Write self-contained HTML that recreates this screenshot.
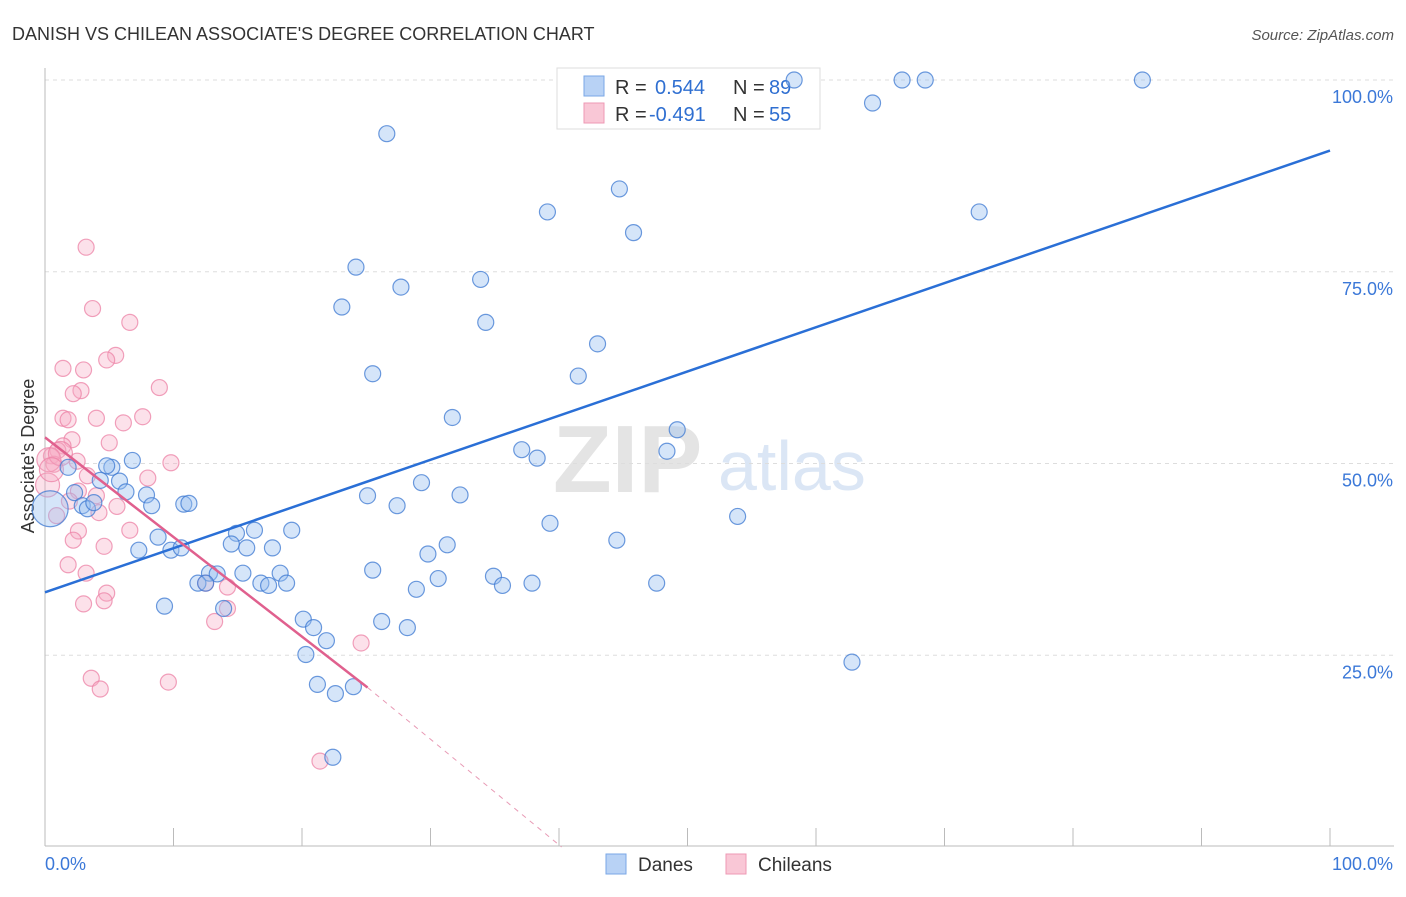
<!DOCTYPE html>
<html><head><meta charset="utf-8"><style>
body{margin:0;background:#fff;font-family:"Liberation Sans",sans-serif;}
svg text{font-family:"Liberation Sans",sans-serif;}
</style></head><body>
<svg id="chart" width="1406" height="892">
<text x="12" y="40" font-size="18" fill="#333">DANISH VS CHILEAN ASSOCIATE'S DEGREE CORRELATION CHART</text>
<text x="1394" y="40" font-size="15" fill="#555" font-style="italic" text-anchor="end">Source: ZipAtlas.com</text>
<text x="34" y="456" font-size="18" fill="#333" transform="rotate(-90 34 456)" text-anchor="middle">Associate's Degree</text>
<text x="553" y="492" font-size="96" fill="#e4e4e4" font-family="Liberation Serif" font-weight="bold">ZIP</text>
<text x="718" y="490" font-size="70" fill="#dbe6f5">atlas</text>
<g id="grid"></g>
<g>
<rect x="557" y="68" width="263" height="61" fill="#fff" stroke="#ddd"/>
<rect x="584" y="76" width="20" height="20" fill="#b8d2f5" stroke="#7aa7e6"/>
<rect x="584" y="103" width="20" height="20" fill="#f9c7d6" stroke="#ee99b4"/>
<text x="615" y="94" font-size="20" fill="#333">R =<tspan fill="#2f6fd1" x="655">0.544</tspan><tspan fill="#333" x="733">N =</tspan><tspan fill="#2f6fd1" x="769">89</tspan></text>
<text x="615" y="121" font-size="20" fill="#333">R =<tspan fill="#2f6fd1" x="649">-0.491</tspan><tspan fill="#333" x="733">N =</tspan><tspan fill="#2f6fd1" x="769">55</tspan></text>
</g>
<g id="pts"></g><g id="lines"></g>
<g>
<rect x="606" y="854" width="20" height="20" fill="#b8d2f5" stroke="#7aa7e6"/>
<text x="638" y="871" font-size="19" fill="#333">Danes</text>
<rect x="726" y="854" width="20" height="20" fill="#f9c7d6" stroke="#ee99b4"/>
<text x="758" y="871" font-size="19" fill="#333">Chileans</text>
</g>
</svg>
<script>
const yTicks=[25,50,75,100];
const yTickLabels=["25.0%","50.0%","75.0%","100.0%"];
const xTickLabels=["0.0%","100.0%"];
const danesX=[58.3,66.7,68.5,85.4,64.4,26.6,44.7,39.1,45.8,72.7,24.2,33.9,27.7,23.1,34.3,43,25.5,41.5,31.7,49.2,37.1,38.3,48.4,1.8,5.2,4.8,6.8,5.8,4.3,2.3,6.3,7.9,8.3,2.9,3.3,3.8,10.8,11.2,25.1,29.3,32.3,27.4,53.9,39.3,44.5,14.9,16.3,19.2,14.5,8.8,7.3,9.8,10.6,15.7,17.7,31.3,29.8,12.8,13.4,15.4,18.3,25.5,11.9,12.5,16.8,17.4,18.8,30.6,34.9,35.6,37.9,47.6,28.9,9.3,13.9,20.1,20.9,26.2,28.2,21.9,20.3,62.8,21.2,24,22.6,22.4,0.4];
const danesY=[100,100,100,100,97,93,85.8,82.8,80.1,82.8,75.6,74,73,70.4,68.4,65.6,61.7,61.4,56,54.4,51.8,50.7,51.6,49.5,49.5,49.7,50.4,47.7,47.8,46.2,46.3,45.9,44.5,44.5,44.1,44.9,44.7,44.8,45.8,47.5,45.9,44.5,43.1,42.2,40,40.9,41.3,41.3,39.5,40.4,38.7,38.7,39,39,39,39.4,38.2,35.7,35.6,35.7,35.7,36.1,34.4,34.4,34.4,34.1,34.4,35,35.3,34.1,34.4,34.4,33.6,31.4,31.1,29.7,28.6,29.4,28.6,26.9,25.1,24.1,21.2,20.9,20,11.7,44.1];
const chileX=[3.2,3.7,6.6,5.5,4.8,1.4,3,8.9,2.8,2.2,1.4,4,1.8,7.6,6.1,5,2.1,1.4,1,0.5,0.7,2.5,9.8,8,3.3,2.6,4,1.9,5.6,4.2,0.9,2.6,6.6,2.2,4.6,1.8,3.2,4.8,4.6,3,12.5,14.2,14.2,13.2,24.6,3.6,4.3,9.6,21.4,0.2,0.3,1.2,0.5];
const chileY=[78.2,70.2,68.4,64.1,63.5,62.4,62.2,59.9,59.5,59.1,55.9,55.9,55.7,56.1,55.3,52.7,53.1,52.3,51.7,51,49.9,50.3,50.1,48.1,48.4,46.4,45.8,45.1,44.4,43.6,43.2,41.2,41.3,40,39.2,36.8,35.7,33.1,32.1,31.7,34.4,33.9,31.1,29.4,26.6,22,20.6,21.5,11.2,47.2,50.5,51.3,49.2];
const NS="http://www.w3.org/2000/svg";
const x0=45,x1=1330,y0=847,y100=80;
const sx=v=>x0+(x1-x0)*v/100, sy=v=>y0-(y0-y100)*v/100;
function mk(t,a,p){const e=document.createElementNS(NS,t);for(const k in a)e.setAttribute(k,a[k]);document.getElementById(p).appendChild(e);return e;}
yTicks.forEach((t,i)=>{
 const g=mk('line',{x1:45,x2:1394,y1:sy(t),y2:sy(t),stroke:'#ddd','stroke-dasharray':'4,4'},'grid');
 
 
 const l=mk('text',{x:1393,y:sy(t)+23,'font-size':18,fill:'#3b78d8','text-anchor':'end'},'grid');l.textContent=yTickLabels[i];
 
 
});
const ax=mk('line',{x1:45,x2:45,y1:68,y2:846,stroke:'#bbb'},'grid');


const bx=mk('line',{x1:45,x2:1394,y1:846,y2:846,stroke:'#bbb'},'grid');


for(let i=0;i<=10;i++){const t=mk('line',{x1:sx(i*10),x2:sx(i*10),y1:828,y2:846,stroke:'#bbb'},'grid');
 
 }
[[0,45,'start'],[1,1393,'end']].forEach(([i,x,a])=>{const l=mk('text',{x:x,y:870,'font-size':18,fill:'#3b78d8','text-anchor':a},'grid');l.textContent=xTickLabels[i];
 
 });
chileX.forEach((v,i)=>{const c=mk('circle',{cx:sx(v),cy:sy(chileY[i]),r:i>=49?12:8,fill:'rgba(246,170,194,0.35)',stroke:'rgba(236,130,165,0.75)','stroke-width':1.2},'pts');
 
 });
danesX.forEach((v,i)=>{const c=mk('circle',{cx:sx(v),cy:sy(danesY[i]),r:i==danesX.length-1?18:8,fill:'rgba(150,190,240,0.4)',stroke:'rgba(60,120,210,0.75)','stroke-width':1.2},'pts');
 
 });
const bl=mk('line',{x1:sx(0),y1:sy(33.2),x2:sx(100),y2:sy(90.8),stroke:'#2a6fd6','stroke-width':2.5},'lines');


const pl=mk('line',{x1:sx(0),y1:sy(53.4),x2:sx(25.1),y2:sy(20.8),stroke:'#e0608e','stroke-width':2.5},'lines');


const pd=mk('line',{x1:sx(25.1),y1:sy(20.8),x2:sx(40.2),y2:sy(0),stroke:'#e89ab5','stroke-width':1,'stroke-dasharray':'5,5'},'lines');


</script>
</body></html>
